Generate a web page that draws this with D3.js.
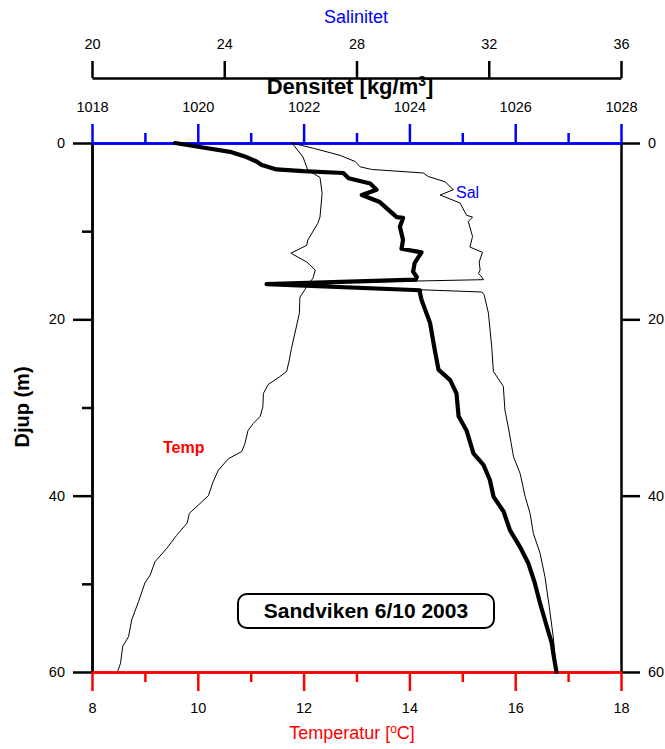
<!DOCTYPE html>
<html>
<head>
<meta charset="utf-8">
<script src="https://cdn.jsdelivr.net/npm/d3@7"></script>
<style>
  body { margin: 0; background: #fff; }
  svg { font-family: "Liberation Sans", Arial, sans-serif; }
</style>
</head>
<body>
<div id="container"></div>
<script>
// Temperatur-profil (djup m, grader C)
const tempDepth = [0, 1.6, 3.1, 3.9, 5.7, 8.4, 9.1, 11.0, 11.6, 12.5, 13.5, 14.4, 15.3, 16.4, 17.5, 19.3, 21.2, 23.3, 24.6, 25.9, 26.5, 27.4, 28.4, 29.9, 31.0, 31.8, 32.6, 34.1, 35.0, 35.8, 37.1, 38.4, 40.0, 40.9, 42.0, 43.1, 44.5, 46.0, 47.5, 49.0, 49.9, 52.0, 54.1, 56.0, 57.1, 59.0, 60];
const tempValue = [11.78, 11.99, 12.08, 12.31, 12.35, 12.31, 12.27, 12.08, 12.06, 11.76, 12.06, 12.22, 12.18, 12.05, 11.93, 11.92, 11.85, 11.77, 11.73, 11.68, 11.55, 11.33, 11.24, 11.23, 11.18, 11.05, 10.95, 10.89, 10.83, 10.58, 10.39, 10.29, 10.20, 10.04, 9.84, 9.80, 9.60, 9.41, 9.19, 9.10, 9.00, 8.88, 8.75, 8.69, 8.58, 8.54, 8.48];

// Salinitet
const salDepth = [0, 0.6, 1.4, 2.1, 2.7, 3.0, 3.4, 3.8, 4.4, 5.3, 5.9, 6.8, 8.2, 8.4, 8.9, 10.6, 11.8, 12.4, 13.5, 14.4, 14.8, 15.2, 15.5, 16.0, 16.9, 17.2, 19.3, 23.1, 25.9, 27.6, 30.3, 32.2, 35.6, 37.5, 40.1, 42.0, 44.3, 46.5, 49.2, 52.6, 56.0, 60];
const salValue = [26.04, 26.70, 27.50, 27.96, 28.11, 28.46, 30.02, 30.17, 30.68, 30.93, 30.53, 31.13, 31.33, 31.51, 31.38, 31.51, 31.43, 31.81, 31.71, 31.74, 31.69, 31.79, 31.84, 25.26, 31.79, 31.86, 31.99, 32.09, 32.14, 32.44, 32.49, 32.59, 32.75, 32.95, 33.10, 33.25, 33.35, 33.55, 33.70, 33.83, 33.95, 34.05];

// Densitet
const densDepth = [0, 0.4, 1.0, 1.6, 2.1, 2.5, 3.0, 3.2, 3.4, 4.0, 4.6, 5.3, 5.9, 6.7, 8.4, 8.5, 9.5, 11.0, 12.0, 12.4, 13.6, 14.6, 15.2, 15.5, 16.0, 16.7, 17.0, 17.8, 20.4, 23.5, 25.7, 26.9, 28.4, 31.0, 32.6, 35.2, 36.5, 38.2, 40.1, 41.8, 43.9, 45.8, 47.7, 49.9, 52.2, 54.9, 56.7, 57.9, 60];
const densValue = [1019.57, 1019.98, 1020.61, 1020.92, 1021.11, 1021.21, 1021.49, 1021.99, 1022.75, 1022.85, 1023.26, 1023.38, 1023.10, 1023.44, 1023.76, 1023.88, 1023.82, 1023.88, 1023.85, 1024.23, 1024.10, 1024.07, 1024.14, 1024.12, 1021.30, 1024.20, 1024.20, 1024.23, 1024.39, 1024.48, 1024.55, 1024.77, 1024.89, 1024.93, 1025.08, 1025.21, 1025.40, 1025.52, 1025.59, 1025.78, 1025.90, 1026.09, 1026.25, 1026.37, 1026.47, 1026.60, 1026.69, 1026.72, 1026.78];

// Axlar
const depthTicks = [0, 20, 40, 60];
const depthMinor = [10, 30, 50];
const tempTicks = [8, 10, 12, 14, 16, 18];
const tempMinor = [9, 11, 13, 15, 17];
const densTicks = [1018, 1020, 1022, 1024, 1026, 1028];
const densMinor = [1019, 1021, 1023, 1025, 1027];
const salTicks = [20, 24, 28, 32, 36];

const W = 665, H = 749;
const m = { left: 92, right: 621, top: 143, bottom: 672 };

const svg = d3.select("#container").append("svg")
  .attr("width", W).attr("height", H);

const y = d3.scaleLinear().domain([0, 60]).range([m.top, m.bottom]);
const xTemp = d3.scaleLinear().domain([8, 18]).range([m.left, m.right]);
const xDens = d3.scaleLinear().domain([1018, 1028]).range([m.left, m.right]);
const xSal = d3.scaleLinear().domain([20, 36]).range([m.left, m.right]);

const styleAxis = (g, color, fontSize) => {
  g.selectAll("path.domain").attr("stroke", color).attr("stroke-width", 2.5);
  g.selectAll(".tick line").attr("stroke", color).attr("stroke-width", 2.5);
  g.selectAll(".tick text").attr("fill", "#000").style("font-size", fontSize + "px")
    .style("font-family", "'Liberation Sans', Arial, sans-serif");
};

// venstre djup-akse
svg.append("g").attr("transform", `translate(${m.left},0)`)
  .call(d3.axisLeft(y).tickValues(depthMinor).tickSize(10).tickSizeOuter(0).tickFormat(""))
  .call(g => styleAxis(g, "#000", 14.5));
svg.append("g").attr("transform", `translate(${m.left},0)`)
  .call(d3.axisLeft(y).tickValues(depthTicks).tickSize(19).tickSizeOuter(0).tickPadding(8))
  .call(g => styleAxis(g, "#000", 14.5));

// høyre djup-akse
svg.append("g").attr("transform", `translate(${m.right},0)`)
  .call(d3.axisRight(y).tickValues(depthTicks).tickSize(19).tickSizeOuter(0).tickPadding(8))
  .call(g => styleAxis(g, "#000", 14.5));

// salinitet øverst
svg.append("g").attr("transform", `translate(0,78)`)
  .call(d3.axisTop(xSal).tickValues(salTicks).tickSize(17).tickSizeOuter(0).tickPadding(12))
  .call(g => styleAxis(g, "#000", 14.5));

// densitet
svg.append("g").attr("transform", `translate(0,${m.top})`)
  .call(d3.axisTop(xDens).tickValues(densMinor).tickSize(10).tickSizeOuter(0).tickFormat(""))
  .call(g => styleAxis(g, "blue", 14.5));
svg.append("g").attr("transform", `translate(0,${m.top})`)
  .call(d3.axisTop(xDens).tickValues(densTicks).tickSize(19).tickSizeOuter(0).tickPadding(12).tickFormat(d3.format("d")))
  .call(g => styleAxis(g, "blue", 14.5));

// temperatur nederst
svg.append("g").attr("transform", `translate(0,${m.bottom})`)
  .call(d3.axisBottom(xTemp).tickValues(tempMinor).tickSize(10).tickSizeOuter(0).tickFormat(""))
  .call(g => styleAxis(g, "red", 14.5));
svg.append("g").attr("transform", `translate(0,${m.bottom})`)
  .call(d3.axisBottom(xTemp).tickValues(tempTicks).tickSize(19).tickSizeOuter(0).tickPadding(12))
  .call(g => styleAxis(g, "red", 14.5));

// kurver
const line = (xs, vals, depths) => d3.line()
  .x((d, i) => xs(vals[i]))
  .y((d, i) => y(depths[i]))(depths);

svg.append("path").attr("d", line(xTemp, tempValue, tempDepth))
  .attr("fill", "none").attr("stroke", "#000").attr("stroke-width", 1);
svg.append("path").attr("d", line(xSal, salValue, salDepth))
  .attr("fill", "none").attr("stroke", "#000").attr("stroke-width", 1);
svg.append("path").attr("d", line(xDens, densValue, densDepth))
  .attr("fill", "none").attr("stroke", "#000").attr("stroke-width", 4.2)
  .attr("stroke-linejoin", "round").attr("stroke-linecap", "round");

// titler
svg.append("text").attr("x", 356).attr("y", 23).attr("text-anchor", "middle")
  .attr("fill", "blue").style("font-size", "18px").text("Salinitet");

const dens = svg.append("text").attr("x", 350).attr("y", 94).attr("text-anchor", "middle")
  .style("font-size", "22px").style("font-weight", "bold");
dens.append("tspan").text("Densitet [kg/m");
dens.append("tspan").attr("dy", -8).style("font-size", "14px").text("3");
dens.append("tspan").attr("dy", 8).text("]");

const tt = svg.append("text").attr("x", 352).attr("y", 739).attr("text-anchor", "middle")
  .attr("fill", "red").style("font-size", "18px");
tt.append("tspan").text("Temperatur [");
tt.append("tspan").attr("dy", -6).style("font-size", "12px").text("o");
tt.append("tspan").attr("dy", 6).text("C]");

svg.append("text").attr("transform", "translate(29,407) rotate(-90)")
  .attr("text-anchor", "middle").style("font-size", "20px").style("font-weight", "bold")
  .text("Djup (m)");

svg.append("text").attr("x", 456).attr("y", 198).attr("fill", "blue")
  .style("font-size", "16px").text("Sal");
svg.append("text").attr("x", 163).attr("y", 453).attr("fill", "red")
  .style("font-size", "16px").style("font-weight", "bold").text("Temp");

// etikett
svg.append("rect").attr("x", 238).attr("y", 594).attr("width", 256).attr("height", 34)
  .attr("rx", 9).attr("fill", "#fff").attr("stroke", "#000").attr("stroke-width", 2);
svg.append("text").attr("x", 366).attr("y", 618).attr("text-anchor", "middle")
  .style("font-size", "21px").style("font-weight", "bold").text("Sandviken 6/10 2003");
</script>
</body>
</html>
